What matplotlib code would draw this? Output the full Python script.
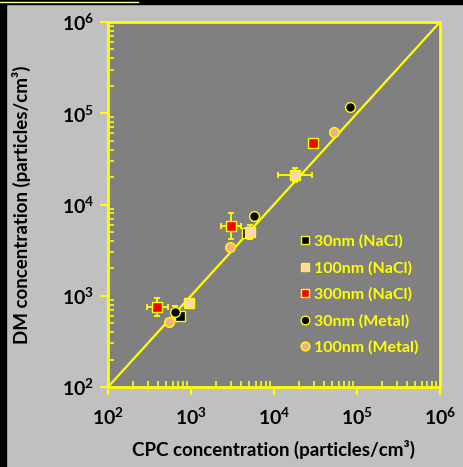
import matplotlib
matplotlib.use('Agg')
import matplotlib.pyplot as plt
import matplotlib.ticker as mticker
from matplotlib.patches import Rectangle
from matplotlib.lines import Line2D
import numpy as np

plt.rcParams['font.family'] = ['Lato', 'DejaVu Sans']
plt.rcParams['font.weight'] = 'bold'
plt.rcParams['mathtext.default'] = 'regular'

# --- data (CPC, DM) ---
nacl30_x = [4700, 740]
nacl30_y = [4900, 600]

nacl100_x = [17900, 5100, 950]
nacl100_y = [21000, 5000, 830]
nacl100_xerr = [0.2, 0.0, 0.0]    # log10 half-width
nacl100_yerr = [0.08, 0.08, 0.0]

nacl300_x = [29200, 3030, 393]
nacl300_y = [47200, 5800, 757]
nacl300_xerr = [0.0, 0.12, 0.125]
nacl300_yerr = [0.0, 0.14, 0.10]

metal30_x = [83000, 5750, 640]
metal30_y = [116000, 7500, 656]
metal30_yerr = [0.0, 0.0, 0.07]

metal100_x = [52800, 2980, 548]
metal100_y = [63000, 3400, 518]

YEL = '#ffff00'


def log_err(vals, half):
    vals = np.asarray(vals, float)
    half = np.asarray(half, float)
    lo = vals - vals / 10 ** half
    hi = vals * 10 ** half - vals
    return np.vstack([lo, hi])


fig = plt.figure(figsize=(4.63, 4.67), dpi=100, facecolor='#c0c0c0')
ax = fig.add_axes([108 / 463, 1 - 387 / 467, 332 / 463, 365 / 467])
ax.set_facecolor('#808080')

# black frame strips + stray yellow line like the original screenshot
fig.patches.append(Rectangle((0, 0), 6 / 463, 1, transform=fig.transFigure,
                             color='black', zorder=0))
fig.patches.append(Rectangle((0, 1 - 4 / 467), 1, 4 / 467, transform=fig.transFigure,
                             color='black', zorder=0))
fig.lines.append(Line2D([0, 138 / 463], [1 - 1.5 / 467, 1 - 1.5 / 467],
                        transform=fig.transFigure, color='#ffff99', lw=1))

ax.plot([1e2, 1e6], [1e2, 1e6], color=YEL, lw=1.6, zorder=2)

eb = dict(fmt='none', ecolor=YEL, elinewidth=1.3, capsize=2.5, capthick=1.3, zorder=3)
ax.errorbar(nacl100_x, nacl100_y, xerr=log_err(nacl100_x, nacl100_xerr),
            yerr=log_err(nacl100_y, nacl100_yerr), **eb)
ax.errorbar(nacl300_x, nacl300_y, xerr=log_err(nacl300_x, nacl300_xerr),
            yerr=log_err(nacl300_y, nacl300_yerr), **eb)
ax.errorbar(metal30_x, metal30_y, yerr=log_err(metal30_y, metal30_yerr), **eb)

mk = dict(linestyle='none', markeredgecolor=YEL, markeredgewidth=1.0, markersize=7, zorder=4)
ax.plot(nacl30_x, nacl30_y, marker='s', color='black', label='30nm (NaCl)', **mk)
ax.plot(nacl100_x, nacl100_y, marker='s', color='#fcd5b4', label='100nm (NaCl)', **mk)
ax.plot(nacl300_x, nacl300_y, marker='s', color='#ff0000', label='300nm (NaCl)', **mk)
ax.plot(metal30_x, metal30_y, marker='o', color='black', label='30nm (Metal)', **mk)
ax.plot(metal100_x, metal100_y, marker='o', color='#f4b183', label='100nm (Metal)', **mk)

ax.set_xscale('log')
ax.set_yscale('log')
ax.set_xlim(1e2, 1e6)
ax.set_ylim(1e2, 1e6)

fmt = mticker.FuncFormatter(lambda v, p: f'$10^{{{int(round(np.log10(v)))}}}$')
ax.xaxis.set_major_formatter(fmt)
ax.yaxis.set_major_formatter(fmt)
ax.xaxis.set_minor_locator(mticker.LogLocator(subs=np.arange(2, 10)))
ax.yaxis.set_minor_locator(mticker.LogLocator(subs=np.arange(2, 10)))
ax.xaxis.set_minor_formatter(mticker.NullFormatter())
ax.yaxis.set_minor_formatter(mticker.NullFormatter())

ax.tick_params(which='major', direction='out', length=6, width=1.5, color=YEL,
               labelsize=14, labelcolor='black')
ax.tick_params(which='minor', direction='in', length=4, width=1.2, color=YEL)
ax.tick_params(axis='x', which='major', pad=8)
ax.tick_params(axis='y', which='major', pad=4)
for lab in ax.get_xticklabels() + ax.get_yticklabels():
    lab.set_fontweight('bold')

for s in ax.spines.values():
    s.set_color(YEL)
    s.set_linewidth(2)

ax.set_xlabel('CPC concentration (particles/cm³)', fontsize=13.5, fontweight='bold', labelpad=9)
ax.set_ylabel('DM concentration (particles/cm³)', fontsize=13.5, fontweight='bold', labelpad=22)

leg = ax.legend(loc='upper left', bbox_to_anchor=(0.578, 0.418), frameon=False,
                borderaxespad=0, borderpad=0,
                handlelength=0.6, handletextpad=0.3, labelspacing=0.75,
                prop=dict(size=11.5, weight='bold'), markerscale=0.9)
for t in leg.get_texts():
    t.set_color(YEL)

fig.savefig('out.png', dpi=100, facecolor=fig.get_facecolor())
